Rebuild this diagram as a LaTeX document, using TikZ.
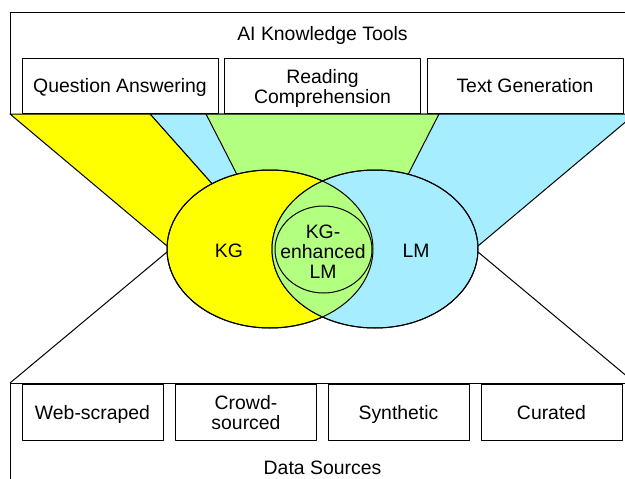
\documentclass[tikz,border=0pt]{standalone}
\usepackage{fontspec}
\setmainfont{Liberation Sans}
\usetikzlibrary{shapes.geometric}
\definecolor{kgyellow}{HTML}{FFFF00}
\definecolor{lmcyan}{HTML}{A6EEFF}
\definecolor{mixgreen}{HTML}{B3FF80}
\begin{document}
\begin{tikzpicture}[x=1pt,y=-1pt,
  font=\fontsize{19.4}{20}\selectfont,
  line width=1pt, line join=round,
  txt/.style={text height=14pt, text depth=0pt},
  boxbase/.style={draw, fill=white, align=center, inner sep=0pt},
  toolsize/.style={minimum width=196pt, minimum height=55pt},
  srcsize/.style={minimum width=141pt, minimum height=56pt},
  fan/.style={draw=black},
  venn/.style={ellipse, draw, minimum width=206pt, minimum height=158pt, inner sep=0pt},
  lbl/.style={align=center, inner sep=0pt}]
\useasboundingbox (0,0) rectangle (625,479);
\clip (0,0) rectangle (625,479);

% coordinates of the fans
\coordinate (ytl) at (10,114);
\coordinate (ytr) at (150,114);
\coordinate (gtl) at (206,114);
\coordinate (gtr) at (439,114);
\coordinate (ctr) at (635,114);
\coordinate (bl) at (10,383);
\coordinate (br) at (635,383);

% outer frames
\draw (10,12) rectangle (635,114);
\draw (10,383) rectangle (635,530);

% fans
\filldraw[fan, fill=lmcyan] (ytr) -- (ctr) -- (478,246) -- (270,249) -- cycle;
\filldraw[fan, fill=kgyellow] (ytl) -- (ytr) -- (270,249) -- (167,246) -- cycle;
\filldraw[fan, fill=mixgreen] (gtl) -- (gtr) -- (395,200) -- (250,200) -- cycle;

% lower lines
\draw (167,252) -- (bl);
\draw (478,252) -- (br);

% Venn ellipses
\node[venn, fill=kgyellow] (kg) at (270,249) {};
\node[venn, fill=lmcyan] (lm) at (375,249) {};
\begin{scope}
  \clip (270,249) ellipse [x radius=103pt, y radius=79pt];
  \fill[mixgreen] (375,249) ellipse [x radius=103pt, y radius=79pt];
\end{scope}
\draw (270,249) ellipse [x radius=103pt, y radius=79pt];
\draw (375,249) ellipse [x radius=103pt, y radius=79pt];
\node[ellipse, draw, fill=mixgreen, minimum width=97pt, minimum height=87pt, inner sep=0pt] (kglm) at (323.5,249.5) {};

% labels in the Venn
\node[lbl, txt] (kgt) at (229,250) {KG};
\node[lbl, txt] (lmt) at (416,250) {LM};
\node[lbl] (kglmt) at (323,251.5) {KG-\\enhanced\\LM};

% top boxes
\node[lbl, txt] (title) at (322.5,33.5) {AI Knowledge Tools};
\node[boxbase, toolsize, txt] (qa) at (120,85.5) {Question Answering};
\node[boxbase, toolsize] (rc) at (322.5,85.5) {};
\node[lbl] (rct) at (322.5,88) {Reading\\Comprehension};
\node[boxbase, toolsize, txt] (tg) at (525,85.5) {Text Generation};

% bottom boxes
\node[boxbase, srcsize, txt] (web) at (92.5,412) {Web-scraped};
\node[boxbase, srcsize] (crowd) at (246,412) {};
\node[lbl] (crowdt) at (246,413) {Crowd-\\sourced};
\node[boxbase, srcsize, txt] (syn) at (398.5,412) {Synthetic};
\node[boxbase, srcsize, txt] (cur) at (551.5,412) {Curated};
\node[lbl, txt] (ds) at (322.5,467) {Data Sources};
\end{tikzpicture}
\end{document}
